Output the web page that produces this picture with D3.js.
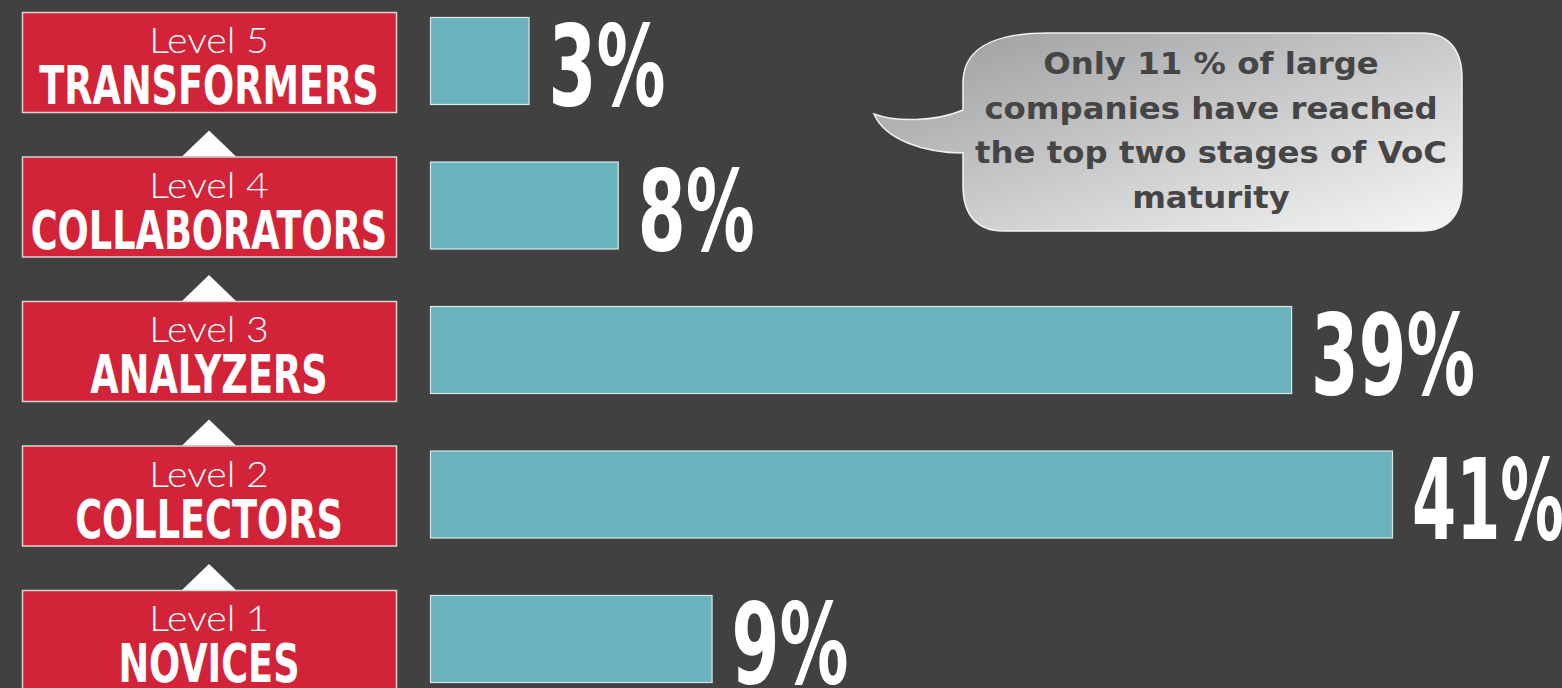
<!DOCTYPE html>
<html>
<head>
<meta charset="utf-8">
<script src="https://cdn.jsdelivr.net/npm/d3@7"></script>
<style>
  html, body { margin: 0; padding: 0; background: #414141; }
  svg { display: block; }
</style>
</head>
<body>
<div id="chart"></div>
<script>
// VoC maturity levels, top to bottom
const levels = ["Level 5", "Level 4", "Level 3", "Level 2", "Level 1"];
const stageNames = ["TRANSFORMERS", "COLLABORATORS", "ANALYZERS", "COLLECTORS", "NOVICES"];
const shareLabels = ["3%", "8%", "39%", "41%", "9%"];
// bar lengths as drawn in the picture (in % units)
const barValues = [4.2, 8.0, 36.7, 41, 12.0];
const calloutLines = ["Only 11 % of large", "companies have reached", "the top two stages of VoC", "maturity"];

const width = 1562,
  height = 688;

const svg = d3
  .select("#chart")
  .append("svg")
  .attr("width", width)
  .attr("height", height);

svg.append("rect").attr("width", width).attr("height", height).attr("fill", "#414141");

const y = d3.scaleBand().domain(levels).range([12, 690]).paddingInner(0.308).paddingOuter(0);
const x = d3.scaleLinear().domain([0, 41]).range([430, 1392]);

const boxLeft = 22,
  boxRight = 396,
  boxMid = (boxLeft + boxRight) / 2;

const condensed = "'Liberation Sans Narrow', 'DejaVu Sans Condensed', 'DejaVu Sans', sans-serif";

// Up arrows between boxes
svg
  .selectAll(".arrow")
  .data(levels.slice(1))
  .enter()
  .append("path")
  .attr("class", "arrow")
  .attr("fill", "#ffffff")
  .attr("d", (d) => {
    const top = y(d);
    return `M${boxMid - 27},${top} L${boxMid},${top - 26} L${boxMid + 27},${top} Z`;
  });

// Red level boxes
const box = svg
  .selectAll(".level")
  .data(levels)
  .enter()
  .append("g")
  .attr("class", "level")
  .attr("transform", (d) => `translate(0,${y(d)})`);

box
  .append("rect")
  .attr("x", boxLeft + 0.5)
  .attr("y", 0.5)
  .attr("width", boxRight - boxLeft)
  .attr("height", y.bandwidth())
  .attr("fill", "#d32338")
  .attr("stroke", "#d9d4d4")
  .attr("stroke-width", 1.5);

box
  .append("g")
  .attr("transform", `translate(${boxMid},41) scale(1.12,1)`)
  .append("text")
  .attr("text-anchor", "middle")
  .attr("fill", "#ffffff")
  .attr("font-family", "'Lato', 'Open Sans', sans-serif")
  .attr("font-weight", 300)
  .attr("font-size", 35)
  .text((d) => d);

box
  .append("g")
  .attr("transform", `translate(${boxMid},92) scale(0.755,1)`)
  .append("text")
  .attr("text-anchor", "middle")
  .attr("fill", "#ffffff")
  .attr("font-family", condensed)
  .attr("font-weight", 700)
  .attr("font-size", 54)
  .text((d, i) => stageNames[i]);

// Teal bars
svg
  .selectAll(".bar")
  .data(levels)
  .enter()
  .append("rect")
  .attr("class", "bar")
  .attr("x", x(0) + 0.5)
  .attr("y", (d) => y(d) + 5.5)
  .attr("width", (d, i) => x(barValues[i]) - x(0))
  .attr("height", 87)
  .attr("fill", "#6bb3bc")
  .attr("stroke", "#d8e8ea")
  .attr("stroke-width", 1.2);

// Percentage labels: tall, condensed figures
function labelWidth(s) {
  let w = 0;
  for (const c of s) w += c === "%" ? 70 : c === "1" ? 30 : 42;
  return w + 5 * (s.length - 1);
}

svg
  .selectAll(".pct")
  .data(levels)
  .enter()
  .append("text")
  .attr("class", "pct")
  .attr("x", (d, i) => x(barValues[i]) + 20)
  .attr("y", (d) => y(d) + 93)
  .attr("fill", "#ffffff")
  .attr("font-family", condensed)
  .attr("font-weight", 700)
  .attr("font-size", 112)
  .attr("textLength", (d, i) => labelWidth(shareLabels[i]))
  .attr("lengthAdjust", "spacingAndGlyphs")
  .text((d, i) => shareLabels[i]);

// Speech bubble callout
const defs = svg.append("defs");
const grad = defs
  .append("linearGradient")
  .attr("id", "bubbleFill")
  .attr("x1", "0%")
  .attr("y1", "0%")
  .attr("x2", "100%")
  .attr("y2", "100%");
grad.append("stop").attr("offset", "0%").attr("stop-color", "#999a9c");
grad.append("stop").attr("offset", "100%").attr("stop-color", "#f7f7f7");

const bx0 = 963,
  bx1 = 1462,
  by0 = 33,
  by1 = 231;
const p = d3.path();
p.moveTo(bx0 + 85, by0);
p.lineTo(bx1 - 40, by0);
p.bezierCurveTo(bx1 - 15, by0, bx1, by0 + 15, bx1, by0 + 45);
p.lineTo(bx1, by1 - 45);
p.bezierCurveTo(bx1, by1 - 15, bx1 - 15, by1, bx1 - 40, by1);
p.lineTo(bx0 + 40, by1);
p.bezierCurveTo(bx0 + 15, by1, bx0, by1 - 15, bx0, by1 - 45);
p.lineTo(bx0, 153);
p.bezierCurveTo(925, 153, 885, 140, 874, 114);
p.bezierCurveTo(895, 122, 935, 122, bx0, 110);
p.lineTo(bx0, by0 + 50);
p.bezierCurveTo(bx0, by0 + 15, bx0 + 30, by0, bx0 + 85, by0);
p.closePath();

svg
  .append("path")
  .attr("d", p.toString())
  .attr("fill", "url(#bubbleFill)")
  .attr("stroke", "#f2f2f2")
  .attr("stroke-width", 1.5);

const callout = svg.append("g").attr("transform", "translate(1211,0)");
const calloutText = callout
  .append("text")
  .attr("text-anchor", "middle")
  .attr("fill", "#454545")
  .attr("font-family", "'DejaVu Sans', 'Lato', sans-serif")
  .attr("font-weight", 700)
  .attr("font-size", 30);

calloutText
  .selectAll("tspan")
  .data(calloutLines)
  .enter()
  .append("tspan")
  .attr("x", 0)
  .attr("y", (d, i) => 74 + i * 44.6)
  .text((d) => d);

// widen to the geometric face of the original: longest line spans ~472px
const widest = d3.max(calloutText.selectAll("tspan").nodes(), (n) => n.getComputedTextLength());
callout.attr("transform", `translate(1211,0) scale(${472 / widest},1)`);
</script>
</body>
</html>
